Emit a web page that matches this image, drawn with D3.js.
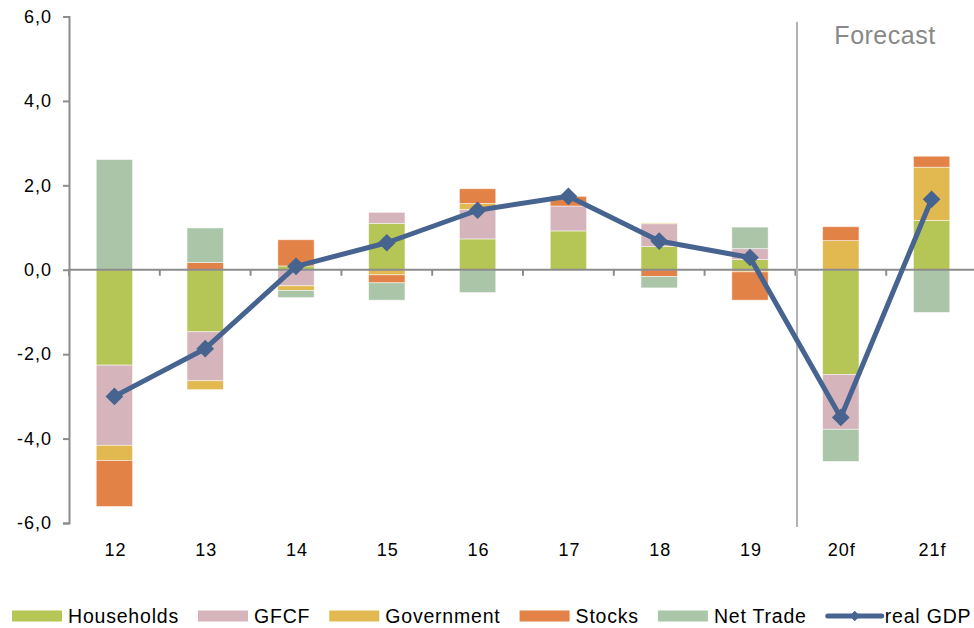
<!DOCTYPE html>
<html>
<head>
<meta charset="utf-8">
<script src="https://cdn.jsdelivr.net/npm/d3@7"></script>
<style>
  body { margin: 0; background: #fff; }
  text { font-family: "Liberation Sans", Arial, sans-serif; fill: #000; }
</style>
</head>
<body>
<div id="chart"></div>
<script>
// contributions to real GDP growth, pp
let categories = ["12", "13", "14", "15", "16", "17", "18", "19", "20f", "21f"]
let households = [-2.26, -1.47, 0.09, 1.10, 0.73, 0.92, 0.55, 0.24, -2.48, 1.17]
let gfcf       = [-1.90, -1.16, -0.38, 0.26, 0.70, 0.59, 0.54, 0.26, -1.30, 0.00]
let government = [-0.36, -0.21, -0.11, -0.12, 0.14, 0.00, 0.02, -0.05, 0.69, 1.26]
let stocks     = [-1.09, 0.17, 0.62, -0.19, 0.35, 0.23, -0.16, -0.67, 0.33, 0.26]
let netTrade   = [2.61, 0.82, -0.17, -0.41, -0.54, 0.00, -0.27, 0.51, -0.76, -1.01]
let realGdp    = [-3.0, -1.87, 0.08, 0.64, 1.41, 1.74, 0.68, 0.29, -3.5, 1.67]
let yTicks = [-6, -4, -2, 0, 2, 4, 6]

let seriesNames = ["Households", "GFCF", "Government", "Stocks", "Net Trade"]
let seriesValues = [households, gfcf, government, stocks, netTrade]
let colors = ["#b5c556", "#d5b4bc", "#e2b951", "#e38247", "#abc5a9"]
let gdpColor = "#46648f"

let width = 974, height = 628

let svg = d3.select("#chart").append("svg")
  .attr("width", width)
  .attr("height", height)

let x = d3.scaleBand()
  .domain(categories)
  .range([69, 977])
  .paddingInner(0.6)
  .paddingOuter(0.3)

let y = d3.scaleLinear()
  .domain([-6, 6])
  .range([523, 16.5])

// build table for the stack
let table = categories.map(function (c, i) {
  let row = { cat: c }
  seriesNames.forEach(function (s, j) { row[s] = seriesValues[j][i] })
  return row
})

let stacked = d3.stack()
  .keys(seriesNames)
  .offset(d3.stackOffsetDiverging)(table)

svg.append("g")
  .selectAll("g")
  .data(stacked)
  .join("g")
  .attr("fill", function (d, i) { return colors[i] })
  .selectAll("rect")
  .data(function (d) { return d })
  .join("rect")
  .attr("x", function (d) { return x(d.data.cat) })
  .attr("width", x.bandwidth())
  .attr("y", function (d) { return y(Math.max(d[0], d[1])) })
  .attr("height", function (d) { return Math.abs(y(d[0]) - y(d[1])) })
  .attr("stroke", "#fff")
  .attr("stroke-opacity", 0.6)
  .attr("stroke-width", 0.8)

// y axis, comma decimals and plain hyphen for minus
let yAxis = d3.axisLeft(y)
  .tickValues(yTicks)
  .tickSize(6)
  .tickPadding(11)
  .tickFormat(function (d) { return d.toFixed(1).replace(".", ",") })

let gy = svg.append("g")
  .attr("transform", "translate(69,0)")
  .call(yAxis)
gy.select(".domain").attr("stroke", "#8c8c8c").attr("stroke-width", 2)
gy.selectAll(".tick line").attr("stroke", "#8c8c8c").attr("stroke-width", 2)
gy.selectAll(".tick text")
  .style("font-size", "18px")
  .style("letter-spacing", "1px")
  .attr("fill", "#000")

// zero line with category ticks
let step = x.step()
let boundaries = categories.map(function (c) { return x(c) - x.paddingOuter() * step })
  .concat([x.range()[1]])

svg.append("line")
  .attr("x1", 69).attr("x2", x.range()[1])
  .attr("y1", y(0)).attr("y2", y(0))
  .attr("stroke", "#8c8c8c").attr("stroke-width", 2)

svg.append("g")
  .selectAll("line")
  .data(boundaries)
  .join("line")
  .attr("x1", function (d) { return d }).attr("x2", function (d) { return d })
  .attr("y1", y(0)).attr("y2", y(0) + 6)
  .attr("stroke", "#8c8c8c").attr("stroke-width", 2)

// category labels
svg.append("g")
  .selectAll("text")
  .data(categories)
  .join("text")
  .attr("x", function (d) { return x(d) + x.bandwidth() / 2 + 1 })
  .attr("y", 556)
  .attr("text-anchor", "middle")
  .style("font-size", "18px")
  .style("letter-spacing", "1px")
  .text(function (d) { return d })

// forecast divider
svg.append("line")
  .attr("x1", 797).attr("x2", 797)
  .attr("y1", 22).attr("y2", 527)
  .attr("stroke", "#b3b3b3").attr("stroke-width", 2)

svg.append("text")
  .attr("x", 885)
  .attr("y", 44)
  .attr("text-anchor", "middle")
  .style("font-size", "25px")
  .style("letter-spacing", "0.5px")
  .style("fill", "#888")
  .text("Forecast")

// real GDP line
let line = d3.line()
  .x(function (d, i) { return x(categories[i]) + x.bandwidth() / 2 })
  .y(function (d) { return y(d) })

svg.append("path")
  .datum(realGdp)
  .attr("d", line)
  .attr("fill", "none")
  .attr("stroke", gdpColor)
  .attr("stroke-width", 5)
  .attr("stroke-linejoin", "round")

svg.append("g")
  .selectAll("path")
  .data(realGdp)
  .join("path")
  .attr("d", d3.symbol().type(d3.symbolDiamond2).size(200))
  .attr("transform", function (d, i) {
    return "translate(" + (x(categories[i]) + x.bandwidth() / 2) + "," + y(d) + ")"
  })
  .attr("fill", gdpColor)

// legend
let legend = svg.append("g")
let lx = 12
let ly = 616
seriesNames.forEach(function (s, i) {
  legend.append("rect")
    .attr("x", lx).attr("y", ly - 5.5)
    .attr("width", 50).attr("height", 11)
    .attr("fill", colors[i])
  let t = legend.append("text")
    .attr("x", lx + 56).attr("y", ly + 6.5)
    .style("font-size", "19.5px")
    .style("letter-spacing", "0.8px")
    .text(s)
  lx = lx + 56 + t.node().getComputedTextLength() + 19
})
legend.append("line")
  .attr("x1", lx + 2).attr("x2", lx + 56)
  .attr("y1", ly).attr("y2", ly)
  .attr("stroke", gdpColor).attr("stroke-width", 5)
  .attr("stroke-linecap", "round")
legend.append("path")
  .attr("d", d3.symbol().type(d3.symbolDiamond2).size(70))
  .attr("transform", "translate(" + (lx + 29) + "," + ly + ")")
  .attr("fill", gdpColor)
legend.append("text")
  .attr("x", lx + 59).attr("y", ly + 6.5)
  .style("font-size", "19.5px")
  .style("letter-spacing", "0.8px")
  .text("real GDP")
</script>
</body>
</html>
